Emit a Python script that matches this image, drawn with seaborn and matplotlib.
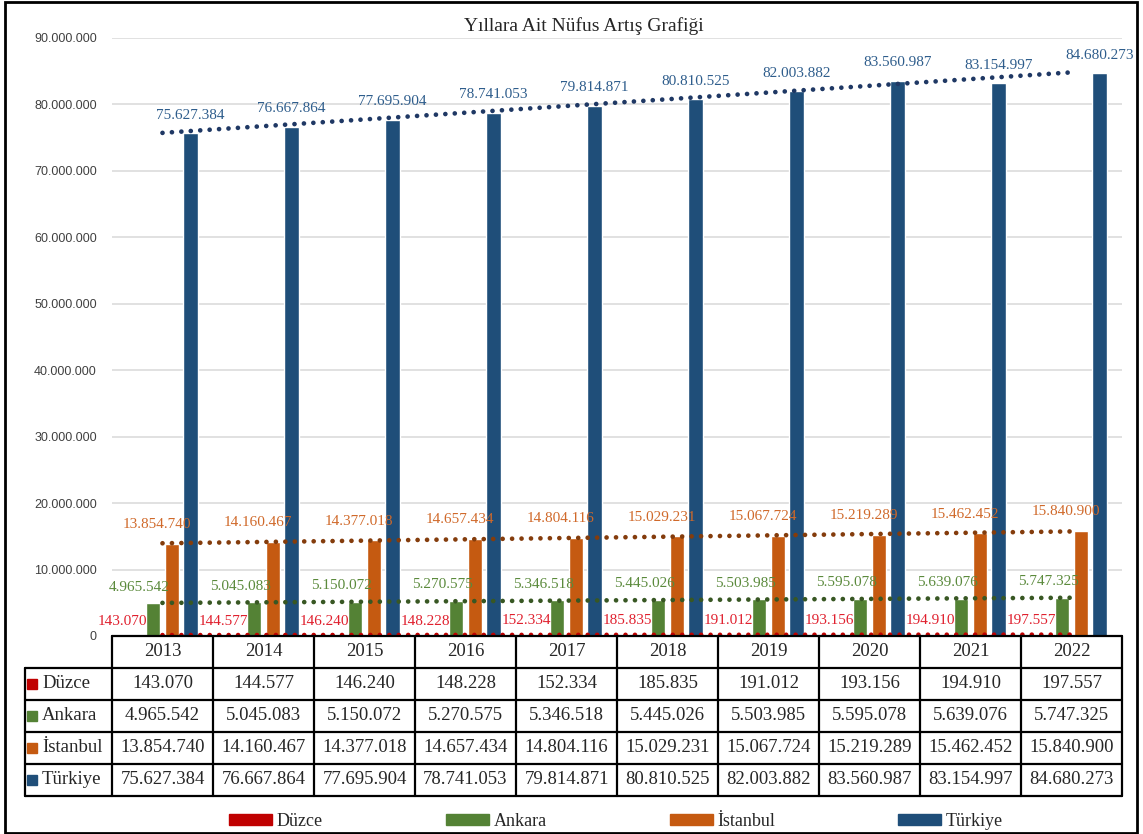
import numpy as np
import pandas as pd
import matplotlib
matplotlib.use("Agg")
import matplotlib.pyplot as plt
import seaborn as sns
from matplotlib.transforms import blended_transform_factory
from matplotlib.patches import Patch, Rectangle
from matplotlib.ticker import FuncFormatter, MultipleLocator

# Veriler
years = ["2013", "2014", "2015", "2016", "2017", "2018", "2019", "2020", "2021", "2022"]
duzce = [143070, 144577, 146240, 148228, 152334, 185835, 191012, 193156, 194910, 197557]
ankara = [4965542, 5045083, 5150072, 5270575, 5346518, 5445026, 5503985, 5595078, 5639076, 5747325]
istanbul = [13854740, 14160467, 14377018, 14657434, 14804116, 15029231, 15067724, 15219289, 15462452, 15840900]
turkiye = [75627384, 76667864, 77695904, 78741053, 79814871, 80810525, 82003882, 83560987, 83154997, 84680273]
cities = ["Düzce", "Ankara", "İstanbul", "Türkiye"]
series = [duzce, ankara, istanbul, turkiye]

bar_colors = ["#C00000", "#548235", "#C55A11", "#1F4E79"]
label_colors = ["#E0202E", "#5B8A3C", "#D0692A", "#2E5D8C"]
trend_colors = ["#C00000", "#385723", "#843C0C", "#1F3864"]
label_dx = [-12, -14, -15, 0]
label_dy = [14, 16, 19, 18]

SERIF = ["Liberation Serif", "DejaVu Serif"]
sns.set_theme(style="white")
plt.rcParams["font.family"] = SERIF

df = pd.DataFrame(dict(zip(cities, series)), index=years)
df = df.reset_index(names="Yıl").melt(id_vars="Yıl", var_name="Şehir", value_name="Nüfus")

W, H = 1143, 834
fig = plt.figure(figsize=(W / 100, H / 100), dpi=100)
ax = fig.add_axes([112 / W, 1 - 636 / H, 1010 / W, 598 / H])

sns.barplot(data=df, x="Yıl", y="Nüfus", hue="Şehir", hue_order=cities,
            palette=bar_colors, saturation=1, width=0.74, gap=0.24,
            legend=False, ax=ax, zorder=2)

ax.set_xlim(-0.5, 9.5)
ax.set_ylim(0, 90e6)
ax.yaxis.set_major_locator(MultipleLocator(10e6))
ax.yaxis.set_major_formatter(FuncFormatter(lambda v, _: f"{int(v):,}".replace(",", ".")))
ax.grid(axis="y", color="#d9d9d9", lw=1.1, zorder=0)
ax.set_axisbelow(True)
ax.set_xticks([])
ax.set_xlabel("")
ax.set_ylabel("")
ax.tick_params(axis="y", length=0, pad=11, labelsize=9, labelcolor="#404040")
for lab in ax.get_yticklabels():
    lab.set_family("Liberation Sans")
for s in ax.spines.values():
    s.set_visible(False)

fmt = lambda v: f"{v:,}".replace(",", ".")

# Veri etiketleri
for k, cont in enumerate(ax.containers):
    for bar, v in zip(cont, series[k]):
        xc = bar.get_x() + bar.get_width() / 2
        ax.annotate(fmt(v), (xc, v), xytext=(label_dx[k], label_dy[k]),
                    textcoords="offset pixels", ha="center", va="center",
                    color=label_colors[k], fontsize=11, family=SERIF, zorder=5)

# Doğrusal eğilim çizgileri
xs = np.arange(len(years))
for k, vals in enumerate(series):
    m, b = np.polyfit(xs, vals, 1)
    ax.plot([xs[0], xs[-1]], [m * xs[0] + b, m * xs[-1] + b],
            color=trend_colors[k], lw=3.4, linestyle=(0, (0.001, 2.0)),
            dash_capstyle="round", zorder=4)

# Veri tablosu
tr = blended_transform_factory(ax.transData, ax.transAxes)
rh = 32 / 598
x_left = -0.5 - 87 / 101
lk = dict(color="black", lw=1.6, transform=tr, clip_on=False, zorder=6)
ax.plot([-0.5, 9.5], [0, 0], **lk)
for r in range(1, 6):
    ax.plot([x_left, 9.5], [-rh * r, -rh * r], **lk)
for i in range(11):
    ax.plot([i - 0.5, i - 0.5], [0, -5 * rh], **lk)
ax.plot([x_left, x_left], [-rh, -5 * rh], **lk)

tk = dict(transform=tr, va="center", fontsize=13.5, family=SERIF)
for i, y in enumerate(years):
    ax.text(i, -rh / 2, y, ha="center", **tk)
for r, (name, vals) in enumerate(zip(cities, series)):
    yy = -rh * (r + 1.5)
    ax.plot([x_left + 7 / 101], [yy], marker="s", ms=7, color=bar_colors[r],
            transform=tr, clip_on=False)
    ax.text(x_left + 17 / 101, yy, name, ha="left", **tk)
    for i, v in enumerate(vals):
        ax.text(i, yy, fmt(v), ha="center", **tk)

# Başlık
fig.text(584 / W, 1 - 26 / H, "Yıllara Ait Nüfus Artış Grafiği", ha="center", va="center",
         fontsize=14, family=SERIF)

# Gösterge
handles = [Patch(facecolor=c, edgecolor=c) for c in bar_colors]
fig.legend(handles, cities, loc="center", bbox_to_anchor=(0.539, 1 - 821 / H), ncol=4,
           frameon=False, handlelength=2.4, handleheight=0.55, handletextpad=0.25,
           columnspacing=6.8, prop={"size": 13, "family": SERIF})

# Dış çerçeve
fig.add_artist(Rectangle((5 / W, 1 / H), 1132 / W, 831 / H, transform=fig.transFigure,
                         fill=False, lw=2, ec="black"))

fig.savefig("out.png", dpi=100)
